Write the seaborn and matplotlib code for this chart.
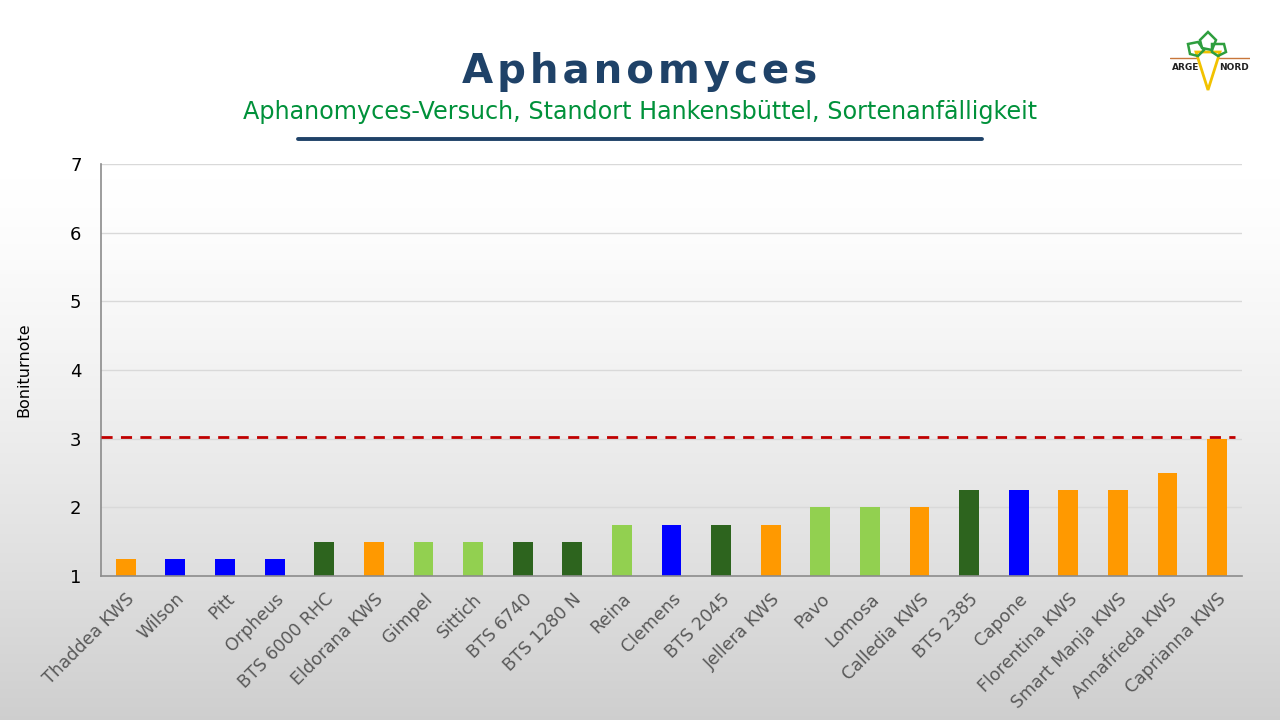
import numpy as np
import pandas as pd
import seaborn as sns
import matplotlib.pyplot as plt
from matplotlib.patches import Polygon

# Daten: Sorten, Boniturnoten, Farbgruppen
sorten = ["Thaddea KWS", "Wilson", "Pitt", "Orpheus", "BTS 6000 RHC", "Eldorana KWS",
          "Gimpel", "Sittich", "BTS 6740", "BTS 1280 N", "Reina", "Clemens",
          "BTS 2045", "Jellera KWS", "Pavo", "Lomosa", "Calledia KWS", "BTS 2385",
          "Capone", "Florentina KWS", "Smart Manja KWS", "Annafrieda KWS", "Caprianna KWS"]
noten = [1.25, 1.25, 1.25, 1.25, 1.5, 1.5, 1.5, 1.5, 1.5, 1.5, 1.75, 1.75,
         1.75, 1.75, 2.0, 2.0, 2.0, 2.25, 2.25, 2.25, 2.25, 2.5, 3.0]
gruppen = ["orange", "blau", "blau", "blau", "dunkelgruen", "orange",
           "hellgruen", "hellgruen", "dunkelgruen", "dunkelgruen", "hellgruen", "blau",
           "dunkelgruen", "orange", "hellgruen", "hellgruen", "orange", "dunkelgruen",
           "blau", "orange", "orange", "orange", "orange"]
grenzwert = 3.02

farben = {"orange": "#FF9900", "blau": "#0000FF",
          "dunkelgruen": "#2D641E", "hellgruen": "#92D050"}

df = pd.DataFrame({"sorte": sorten, "note": noten, "gruppe": gruppen})

sns.set_style("white")
plt.rcParams["font.family"] = ["DejaVu Sans"]

fig = plt.figure(figsize=(12.8, 7.2), dpi=100)

# Hintergrund mit Verlauf (oben weiss, unten grau)
bg = fig.add_axes([0, 0, 1, 1], zorder=-10)
t = np.linspace(0, 1, 512)
grad = 1.0 - 0.19 * np.clip((t - 0.25) / 0.75, 0, 1) ** 1.3
grad = grad.reshape(-1, 1)
bg.imshow(np.dstack([grad, grad, grad]), aspect="auto", extent=[0, 1, 0, 1], origin="upper")
bg.axis("off")

ax = fig.add_axes([0.0789, 0.2, 0.8914, 0.5722])
ax.set_facecolor("none")

sns.barplot(data=df, x="sorte", y="note", hue="sorte",
            palette=[farben[g] for g in gruppen], legend=False,
            width=0.4, saturation=1, linewidth=0, ax=ax)
for p in ax.patches:
    p.set_y(1)
    p.set_height(p.get_height() - 1)
    p.set_linewidth(0)

ax.set_ylim(1, 7)
ax.set_xlim(-0.5, len(sorten) - 0.5)
ax.set_yticks(range(1, 8))
ax.yaxis.grid(True, color="#D9D9D9", linewidth=1)
ax.set_axisbelow(True)
for s in ["top", "right"]:
    ax.spines[s].set_visible(False)
for s in ["left", "bottom"]:
    ax.spines[s].set_color("#8C8C8C")
    ax.spines[s].set_linewidth(1.2)
ax.tick_params(axis="both", length=0)
ax.tick_params(axis="y", labelsize=13, labelcolor="black", pad=14)
ax.set_xticks(range(len(sorten)))
ax.set_xticklabels(sorten, rotation=45, ha="right", rotation_mode="anchor",
                   fontsize=12.5, color="#595959")
ax.tick_params(axis="x", pad=10)
ax.set_xlabel("")
ax.set_ylabel("Boniturnote", fontsize=11.5, color="black", labelpad=28)

ax.axhline(grenzwert, xmin=0, xmax=0.994, color="#C00000", linewidth=2,
           linestyle=(0, (4, 3)), zorder=5)

# Titel
fig.text(0.5, 0.9, "\u200a".join("Aphanomyces"), ha="center", va="center",
         fontsize=29, fontweight="bold", color="#1F4268")
fig.text(0.5, 0.845, "Aphanomyces-Versuch, Standort Hankensbüttel, Sortenanfälligkeit",
         ha="center", va="center", fontsize=17.2, color="#00913A")
fig.add_artist(plt.Line2D([298 / 1280, 982 / 1280], [1 - 139 / 720] * 2,
                          color="#1F4268", linewidth=2.8))

# Logo
logo = fig.add_axes([1170 / 1280, 1 - 92 / 720, 80 / 1280, 62 / 720])
logo.set_xlim(0, 80)
logo.set_ylim(0, 62)
logo.axis("off")
logo.plot([0, 80], [34, 34], color="#C8763A", linewidth=1)
logo.add_patch(Polygon([[26, 40], [50, 40], [38, 2]], closed=True, facecolor="white",
                       edgecolor="#F2C200", linewidth=2, zorder=3))
for pts in [[[30, 52], [38, 60], [46, 52], [42, 42], [32, 44]],
            [[18, 48], [28, 50], [34, 42], [28, 36], [20, 38]],
            [[42, 48], [54, 48], [56, 40], [48, 36], [42, 40]]]:
    logo.add_patch(Polygon(pts, closed=True, facecolor="none", edgecolor="#2E9E3E",
                           linewidth=1.8, zorder=4))
logo.text(2, 24, "ARGE", fontsize=6.5, fontweight="bold", color="#222222", va="center")
logo.text(49, 24, "NORD", fontsize=6.5, fontweight="bold", color="#222222", va="center")

fig.savefig("out.png", dpi=100)
